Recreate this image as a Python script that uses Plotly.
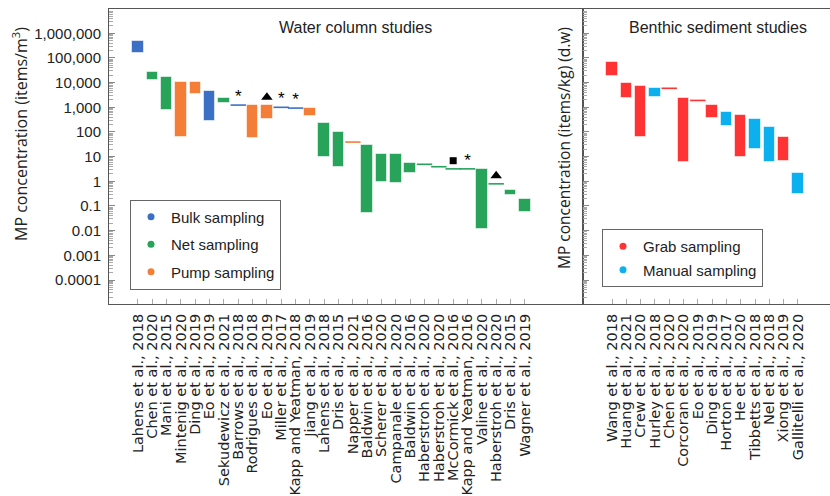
import plotly.graph_objects as go

# ---------------- data ----------------
wc_labels = ["Lahens et al., 2018", "Chen et al., 2020", "Mani et al., 2015", "Mintenig et al., 2020",
             "Ding et al., 2019", "Eo et al., 2019", "Sekudewicz et al., 2021", "Barrows et al., 2018",
             "Rodrigues et al., 2018", "Eo et al., 2019", "Miller et al., 2017", "Kapp and Yeatman, 2018",
             "Jiang et al., 2019", "Lahens et al., 2018", "Dris et al., 2015", "Napper et al., 2021",
             "Baldwin et al., 2016", "Scherer et al., 2020", "Campanale et al., 2020", "Baldwin et al., 2016",
             "Haberstroh et al., 2020", "Haberstroh et al., 2020", "McCormick et al., 2016",
             "Kapp and Yeatman, 2016", "Valine et al., 2020", "Haberstroh et al., 2020", "Dris et al., 2015",
             "Wagner et al., 2019"]
wc_method = ["Bulk", "Net", "Net", "Pump", "Pump", "Bulk", "Net", "Bulk", "Pump", "Pump", "Bulk", "Bulk",
             "Pump", "Net", "Net", "Pump", "Net", "Net", "Net", "Net", "Net", "Net", "Net", "Net", "Net",
             "Net", "Net", "Net"]
wc_low = [160000, 13000, 780, 65, 3500, 280, 1550, 1230, 55, 345, 1000, 930, 460, 10, 3.9, 39, 0.05, 0.91,
          0.85, 2.2, 4.9, 3.9, 3.2, 3.2, 0.012, 0.79, 0.28, 0.059]
wc_high = [470000, 27000, 16400, 11000, 10300, 4600, 2450, 1230, 1200, 1200, 1000, 930, 930, 225, 102, 39,
           30.5, 13, 13, 5.5, 4.9, 3.9, 3.2, 3.2, 3.1, 0.79, 0.46, 0.19]
wc_flag = ["", "", "", "", "", "", "", "*", "", "tri", "*", "*", "", "", "", "", "", "", "", "", "", "",
           "sq", "*", "", "tri", "", ""]

bs_labels = ["Wang et al., 2018", "Huang et al., 2021", "Crew et al., 2020", "Hurley et al., 2018",
             "Chen et al., 2020", "Corcoran et al., 2020", "Eo et al., 2019", "Ding et al., 2019",
             "Horton et al., 2017", "He et al., 2020", "Tibbetts et al., 2018", "Nel et al., 2018",
             "Xiong et al., 2019", "Gallitelli et al., 2020"]
bs_method = ["Grab", "Grab", "Grab", "Manual", "Grab", "Grab", "Grab", "Grab", "Manual", "Grab", "Manual",
             "Manual", "Grab", "Manual"]
bs_low = [18000, 2450, 65, 2700, 5900, 5.9, 1900, 355, 175, 10, 20, 6.3, 6.9, 0.31]
bs_high = [71000, 9700, 7100, 5900, 5900, 2350, 1900, 1230, 630, 490, 340, 155, 65, 2.1]

y_tickvals = [1e6, 1e5, 1e4, 1e3, 100, 10, 1, 0.1, 0.01, 0.001, 0.0001]
y_ticktext = ["1,000,000", "100,000", "10,000", "1,000", "100", "10", "1", "0.1", "0.01", "0.001", "0.0001"]

# ---------------- styles ----------------
colors = {"Bulk": "#3b70c6", "Net": "#27a35a", "Pump": "#f47d38",
          "Grab": "#ff3333", "Manual": "#0cb0ee"}
legend_names = {"Bulk": "Bulk sampling", "Net": "Net sampling", "Pump": "Pump sampling",
                "Grab": "Grab sampling", "Manual": "Manual sampling"}
LABEL_FONT = "DejaVu Sans"
TEXT_FONT = "Liberation Sans, Arial"
AX = "#555555"

fig = go.Figure()


def add_panel(labels, methods, low, high, xa, ya, order, legend):
    xs = list(range(len(labels)))
    for m in order:
        idx = [i for i in xs if methods[i] == m and high[i] > low[i]]
        fig.add_trace(go.Bar(
            x=[i for i in idx], y=[high[i] - low[i] for i in idx], base=[low[i] for i in idx],
            width=0.8, marker=dict(color=colors[m], line=dict(color="rgba(255,255,255,0.55)", width=1)),
            xaxis=xa, yaxis=ya, showlegend=False, name=legend_names[m]))
        lidx = [i for i in xs if methods[i] == m and high[i] <= low[i]]
        if lidx:
            fig.add_trace(go.Scatter(
                x=lidx, y=[high[i] for i in lidx], mode="markers",
                marker=dict(symbol="line-ew", size=11, line=dict(color=colors[m], width=1.6)),
                xaxis=xa, yaxis=ya, showlegend=False, name=legend_names[m]))
    for k, m in enumerate(order):
        fig.add_trace(go.Scatter(
            x=[None], y=[None], mode="markers", marker=dict(symbol="circle", size=7, color=colors[m]),
            name=legend_names[m], legend=legend, legendgroup=m, xaxis=xa, yaxis=ya))


add_panel(wc_labels, wc_method, wc_low, wc_high, "x", "y", ["Bulk", "Net", "Pump"], "legend")
add_panel(bs_labels, bs_method, bs_low, bs_high, "x2", "y2", ["Grab", "Manual"], "legend2")

# flags above some water-column studies
up = 10 ** 0.33
ast = [i for i, f in enumerate(wc_flag) if f == "*"]
fig.add_trace(go.Scatter(x=ast, y=[wc_high[i] * up * 0.93 for i in ast], mode="text", text=["*"] * len(ast),
                         textfont=dict(size=17, color="black", family=TEXT_FONT), textposition="middle center",
                         showlegend=False, xaxis="x", yaxis="y"))
tri = [i for i, f in enumerate(wc_flag) if f == "tri"]
fig.add_trace(go.Scatter(x=tri, y=[wc_high[i] * up for i in tri], mode="markers",
                         marker=dict(symbol="triangle-up", size=10, color="black"),
                         showlegend=False, xaxis="x", yaxis="y"))
sq = [i for i, f in enumerate(wc_flag) if f == "sq"]
fig.add_trace(go.Scatter(x=sq, y=[wc_high[i] * up for i in sq], mode="markers",
                         marker=dict(symbol="square", size=7, color="black"),
                         showlegend=False, xaxis="x", yaxis="y"))

# ---------------- layout ----------------
W, H = 830, 496
ML, MR, MT, MB = 109, 0, 9, 192
PW, PH = W - ML - MR, H - MT - MB
split = (583 - ML) / PW

minor_vals = [m * 10 ** e for e in range(-5, 7) for m in range(2, 10)]

yaxis_common = dict(type="log", range=[-4.973, 6.985], tickvals=y_tickvals, ticks="inside", ticklen=6,
                    tickcolor="#888888", showgrid=False, zeroline=False, showline=True, linecolor=AX,
                    linewidth=1, automargin=False,
                    minor=dict(tickvals=minor_vals, ticks="inside", ticklen=4, tickcolor="#aaaaaa",
                               showgrid=False))
xaxis_common = dict(tickmode="array", ticks="inside", ticklen=5, tickcolor="#aaaaaa", showgrid=False,
                    zeroline=False, showline=True, linecolor=AX, linewidth=1, mirror=True, tickangle=-90,
                    automargin=False,
                    tickfont=dict(family=LABEL_FONT, size=14.5, color="#222222"), ticklabelstandoff=3)

fig.update_layout(
    width=W, height=H, margin=dict(l=ML, r=MR, t=MT, b=MB), plot_bgcolor="white", paper_bgcolor="white",
    barmode="overlay", bargap=0,
    xaxis=dict(domain=[0, split], range=[-2.02, 31.06], tickvals=list(range(len(wc_labels))),
               ticktext=wc_labels, **xaxis_common),
    xaxis2=dict(domain=[split, 1], range=[-2.03, 15.24], tickvals=list(range(len(bs_labels))),
                ticktext=bs_labels, anchor="y2", **xaxis_common),
    yaxis=dict(ticktext=y_ticktext, mirror=True, tickfont=dict(family=TEXT_FONT, size=15, color="#222222"),
               ticklabelstandoff=4, **yaxis_common),
    yaxis2=dict(anchor="x2", showticklabels=False, mirror=False, **yaxis_common),
    legend=dict(x=(130 - ML) / PW, y=(304 - 199.5) / PH, xanchor="left", yanchor="top",
                bordercolor="#666666", borderwidth=1, bgcolor="white", tracegroupgap=5,
                font=dict(family=TEXT_FONT, size=15, color="#222222")),
    legend2=dict(x=(602 - ML) / PW, y=(304 - 229) / PH, xanchor="left", yanchor="top",
                 bordercolor="#666666", borderwidth=1, bgcolor="white", tracegroupgap=1,
                 font=dict(family=TEXT_FONT, size=15, color="#222222")),
    showlegend=True,
)

ann = dict(xref="paper", yref="paper", showarrow=False, xanchor="center", yanchor="middle")
fig.add_annotation(text="Water column studies", x=(355 - ML) / PW, y=(304 - 27) / PH,
                   font=dict(family=TEXT_FONT, size=16, color="#222222"), **ann)
fig.add_annotation(text="Benthic sediment studies", x=(718 - ML) / PW, y=(304 - 27) / PH,
                   font=dict(family=TEXT_FONT, size=16, color="#222222"), **ann)
fig.add_annotation(text="MP concentration (items/m<sup>3</sup>)", x=(20 - ML) / PW, y=(304 - 134) / PH,
                   textangle=-90, font=dict(family="Open Sans", size=16, color="#222222"), **ann)
fig.add_annotation(text="MP concentration (items/kg) (d.w)", x=(564 - ML) / PW, y=(304 - 148) / PH,
                   textangle=-90, font=dict(family="Open Sans", size=15.5, color="#222222"), **ann)

fig.write_html("out.html")
